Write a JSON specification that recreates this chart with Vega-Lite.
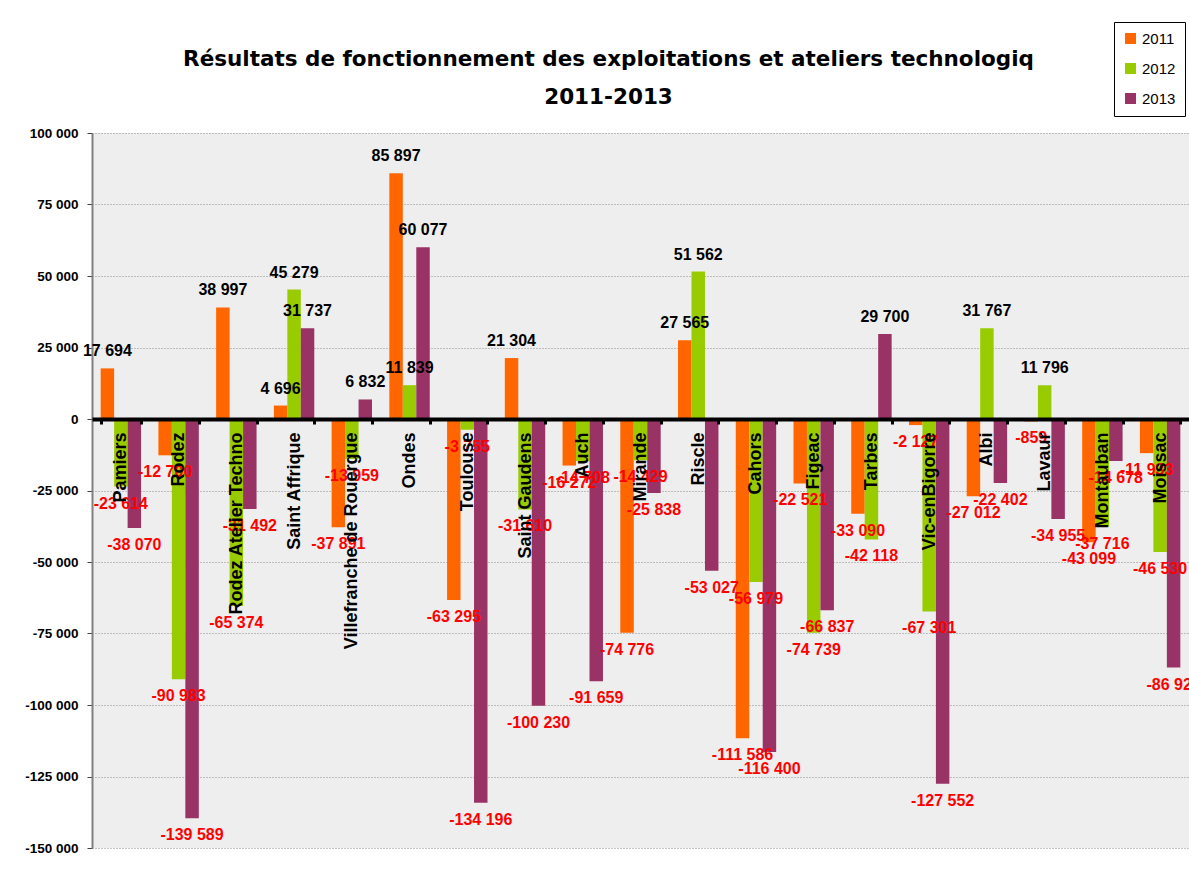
{
  "$schema": "https://vega.github.io/schema/vega-lite/v6.json",
  "width": 1097,
  "height": 715,
  "autosize": {"type": "none"},
  "padding": {"left": 92, "top": 133, "right": 0, "bottom": 24},
  "background": "#ffffff",
  "title": {
    "text": ["Résultats de fonctionnement des exploitations et ateliers technologiq", "2011-2013"],
    "font": "DejaVu Sans",
    "fontSize": 21.5,
    "fontWeight": "bold",
    "color": "#000000",
    "anchor": "middle",
    "dx": -32,
    "lineHeight": 38,
    "offset": -87
  },
  "data": {
    "values": [
      {"site": "Pamiers", "annee": "2011", "valeur": 17694},
      {"site": "Pamiers", "annee": "2012", "valeur": -23614},
      {"site": "Pamiers", "annee": "2013", "valeur": -38070},
      {"site": "Rodez", "annee": "2011", "valeur": -12700},
      {"site": "Rodez", "annee": "2012", "valeur": -90983},
      {"site": "Rodez", "annee": "2013", "valeur": -139589},
      {"site": "Rodez Atelier Techno", "annee": "2011", "valeur": 38997},
      {"site": "Rodez Atelier Techno", "annee": "2012", "valeur": -65374},
      {"site": "Rodez Atelier Techno", "annee": "2013", "valeur": -31492},
      {"site": "Saint Affrique", "annee": "2011", "valeur": 4696},
      {"site": "Saint Affrique", "annee": "2012", "valeur": 45279},
      {"site": "Saint Affrique", "annee": "2013", "valeur": 31737},
      {"site": "Villefranche de Rouergue", "annee": "2011", "valeur": -37891},
      {"site": "Villefranche de Rouergue", "annee": "2012", "valeur": -13959},
      {"site": "Villefranche de Rouergue", "annee": "2013", "valeur": 6832},
      {"site": "Ondes", "annee": "2011", "valeur": 85897},
      {"site": "Ondes", "annee": "2012", "valeur": 11839},
      {"site": "Ondes", "annee": "2013", "valeur": 60077},
      {"site": "Toulouse", "annee": "2011", "valeur": -63295},
      {"site": "Toulouse", "annee": "2012", "valeur": -3755},
      {"site": "Toulouse", "annee": "2013", "valeur": -134196},
      {"site": "Saint Gaudens", "annee": "2011", "valeur": 21304},
      {"site": "Saint Gaudens", "annee": "2012", "valeur": -31610},
      {"site": "Saint Gaudens", "annee": "2013", "valeur": -100230},
      {"site": "Auch", "annee": "2011", "valeur": -16272},
      {"site": "Auch", "annee": "2012", "valeur": -14708},
      {"site": "Auch", "annee": "2013", "valeur": -91659},
      {"site": "Mirande", "annee": "2011", "valeur": -74776},
      {"site": "Mirande", "annee": "2012", "valeur": -14429},
      {"site": "Mirande", "annee": "2013", "valeur": -25838},
      {"site": "Riscle", "annee": "2011", "valeur": 27565},
      {"site": "Riscle", "annee": "2012", "valeur": 51562},
      {"site": "Riscle", "annee": "2013", "valeur": -53027},
      {"site": "Cahors", "annee": "2011", "valeur": -111586},
      {"site": "Cahors", "annee": "2012", "valeur": -56979},
      {"site": "Cahors", "annee": "2013", "valeur": -116400},
      {"site": "Figeac", "annee": "2011", "valeur": -22521},
      {"site": "Figeac", "annee": "2012", "valeur": -74739},
      {"site": "Figeac", "annee": "2013", "valeur": -66837},
      {"site": "Tarbes", "annee": "2011", "valeur": -33090},
      {"site": "Tarbes", "annee": "2012", "valeur": -42118},
      {"site": "Tarbes", "annee": "2013", "valeur": 29700},
      {"site": "Vic-enBigorre", "annee": "2011", "valeur": -2127},
      {"site": "Vic-enBigorre", "annee": "2012", "valeur": -67301},
      {"site": "Vic-enBigorre", "annee": "2013", "valeur": -127552},
      {"site": "Albi", "annee": "2011", "valeur": -27012},
      {"site": "Albi", "annee": "2012", "valeur": 31767},
      {"site": "Albi", "annee": "2013", "valeur": -22402},
      {"site": "Lavaur", "annee": "2011", "valeur": -859},
      {"site": "Lavaur", "annee": "2012", "valeur": 11796},
      {"site": "Lavaur", "annee": "2013", "valeur": -34955},
      {"site": "Montauban", "annee": "2011", "valeur": -43099},
      {"site": "Montauban", "annee": "2012", "valeur": -37716},
      {"site": "Montauban", "annee": "2013", "valeur": -14678},
      {"site": "Moissac", "annee": "2011", "valeur": -11933},
      {"site": "Moissac", "annee": "2012", "valeur": -46530},
      {"site": "Moissac", "annee": "2013", "valeur": -86920}
    ]
  },
  "encoding": {
    "x": {
      "field": "site",
      "type": "nominal",
      "sort": null,
      "scale": {"paddingInner": 0.3, "paddingOuter": 0.15},
      "axis": {
        "title": null,
        "orient": "bottom",
        "offset": -429,
        "zindex": 1,
        "domainColor": "#000000",
        "domainWidth": 4,
        "tickBand": "extent",
        "tickColor": "#000000",
        "tickSize": 5,
        "tickWidth": 3,
        "labelAngle": -90,
        "labelPadding": 8,
        "labelFont": "Liberation Sans",
        "labelFontSize": 18,
        "labelFontWeight": "bold",
        "labelColor": "#000000",
        "labelOverlap": false,
        "labelLimit": 400,
        "grid": false
      }
    },
    "xOffset": {"field": "annee", "type": "nominal", "scale": {"paddingInner": 0, "paddingOuter": 0}},
    "y": {
      "field": "valeur",
      "type": "quantitative",
      "scale": {"domain": [-150000, 100000], "nice": false},
      "axis": {
        "title": null,
        "values": [-150000, -125000, -100000, -75000, -50000, -25000, 0, 25000, 50000, 75000, 100000],
        "format": ",d",
        "labelFont": "Liberation Sans",
        "labelFontSize": 13.5,
        "labelFontWeight": "bold",
        "labelColor": "#000000",
        "labelPadding": 9,
        "domainColor": "#808080",
        "domainWidth": 2,
        "tickColor": "#404040",
        "tickSize": 5,
        "tickWidth": 1,
        "grid": true,
        "gridColor": "#8c8c8c",
        "gridDash": [1, 2],
        "gridWidth": 1
      }
    }
  },
  "layer": [
    {
      "mark": {"type": "bar"},
      "encoding": {
        "color": {
          "field": "annee",
          "type": "nominal",
          "scale": {"domain": ["2011", "2012", "2013"], "range": ["#ff6600", "#99cc00", "#993366"]},
          "legend": {
            "title": null,
            "orient": "none",
            "legendX": 1022,
            "legendY": -111,
            "direction": "vertical",
            "fillColor": "#ffffff",
            "strokeColor": "#000000",
            "padding": 9,
            "rowPadding": 14,
            "symbolType": "square",
            "symbolSize": 120,
            "symbolStrokeWidth": 0,
            "labelFont": "Liberation Sans",
            "labelFontSize": 15,
            "labelColor": "#000000",
            "labelOffset": 4
          }
        }
      }
    },
    {
      "transform": [{"filter": "datum.valeur >= 0"}],
      "mark": {"type": "text", "baseline": "bottom", "dy": -9, "font": "Liberation Sans", "fontSize": 16, "fontWeight": "bold", "color": "#000000"},
      "encoding": {"text": {"field": "valeur", "type": "quantitative", "format": ",d"}}
    },
    {
      "transform": [{"filter": "datum.valeur < 0"}],
      "mark": {"type": "text", "baseline": "top", "dy": 9, "font": "Liberation Sans", "fontSize": 16, "fontWeight": "bold", "color": "#ff0000"},
      "encoding": {"text": {"field": "valeur", "type": "quantitative", "format": ",d"}}
    }
  ],
  "config": {
    "view": {"fill": "#eeeeee", "stroke": null},
    "locale": {
      "number": {"decimal": ",", "thousands": " ", "grouping": [3], "currency": ["", " €"], "minus": "-"}
    }
  }
}
